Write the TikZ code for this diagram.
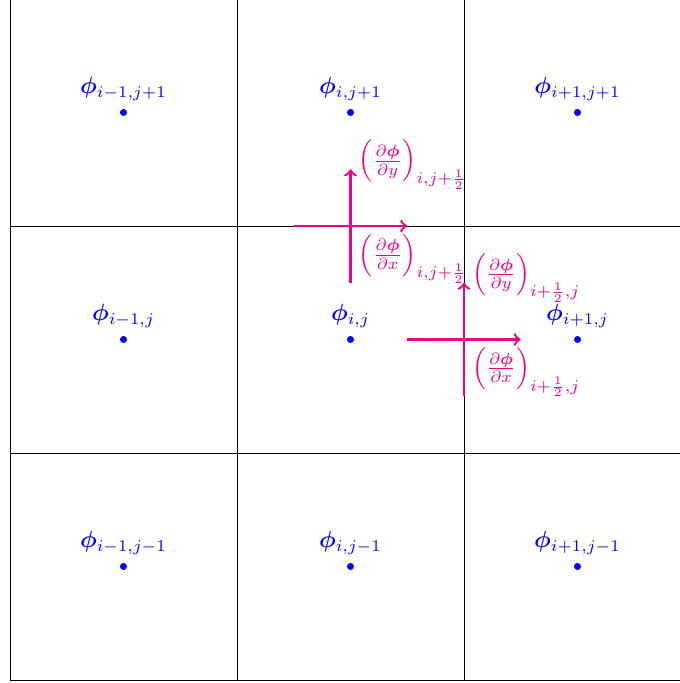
\documentclass[tikz,border=0pt]{standalone}
\usepackage{amsmath}
\usepackage{bm}
\usepackage{tikz}
\usetikzlibrary{calc}
\definecolor{fluxpink}{RGB}{236,0,140}

\begin{document}
\begin{tikzpicture}[
  x=3.4cm, y=3.4cm,
  gridline/.style={black, line width=0.4pt},
  cellpt/.style={circle, fill=blue, inner sep=0pt, minimum size=3pt},
  cellval/.style={text=blue},
  flux/.style={->, line width=1pt, fluxpink},
  fluxlab/.style={text=fluxpink},
]
\useasboundingbox (-0.044,-0.0132) rectangle (2.9515,2.9956);

% grid lines (top and right edges fall outside the picture)
\foreach \k in {0,1,2} {
  \draw[gridline] (\k,0) -- (\k,2.9956);
  \draw[gridline] (0,\k) -- (2.9515,\k);
}

% cell centres
\foreach \c/\x/\s in {m/0.5/{i-1}, c/1.5/{i}, p/2.5/{i+1}}
  \foreach \r/\y/\t in {m/0.5/{j-1}, c/1.5/{j}, p/2.5/{j+1}}
    \node[cellpt, label={[cellval]above:$\bm{\phi}_{\s,\t}$}] (u-\c\r) at (\x,\y) {};

% faces
\coordinate (fN) at (1.5,2);
\coordinate (fE) at (2,1.5);
\coordinate (fN-w) at ($(fN)+(-0.25,0)$);
\coordinate (fN-e) at ($(fN)+(0.25,0)$);
\coordinate (fN-s) at ($(fN)+(0,-0.25)$);
\coordinate (fN-n) at ($(fN)+(0,0.25)$);
\coordinate (fE-w) at ($(fE)+(-0.25,0)$);
\coordinate (fE-e) at ($(fE)+(0.25,0)$);
\coordinate (fE-s) at ($(fE)+(0,-0.25)$);
\coordinate (fE-n) at ($(fE)+(0,0.25)$);

\draw[flux] (fN-w) -- (fN-e);
\draw[flux] (fN-s) -- (fN-n);
\draw[flux] (fE-w) -- (fE-e);
\draw[flux] (fE-s) -- (fE-n);

\node[fluxlab, right, yshift=2pt] (dyN) at (fN-n)
  {$\left(\frac{\partial\bm{\phi}}{\partial y}\right)_{i,j+\frac{1}{2}}$};
\node[fluxlab, below right] (dxN) at (fN)
  {$\left(\frac{\partial\bm{\phi}}{\partial x}\right)_{i,j+\frac{1}{2}}$};
\node[fluxlab, right, yshift=2pt] (dyE) at (fE-n)
  {$\left(\frac{\partial\bm{\phi}}{\partial y}\right)_{i+\frac{1}{2},j}$};
\node[fluxlab, below right] (dxE) at (fE)
  {$\left(\frac{\partial\bm{\phi}}{\partial x}\right)_{i+\frac{1}{2},j}$};
\end{tikzpicture}
\end{document}
